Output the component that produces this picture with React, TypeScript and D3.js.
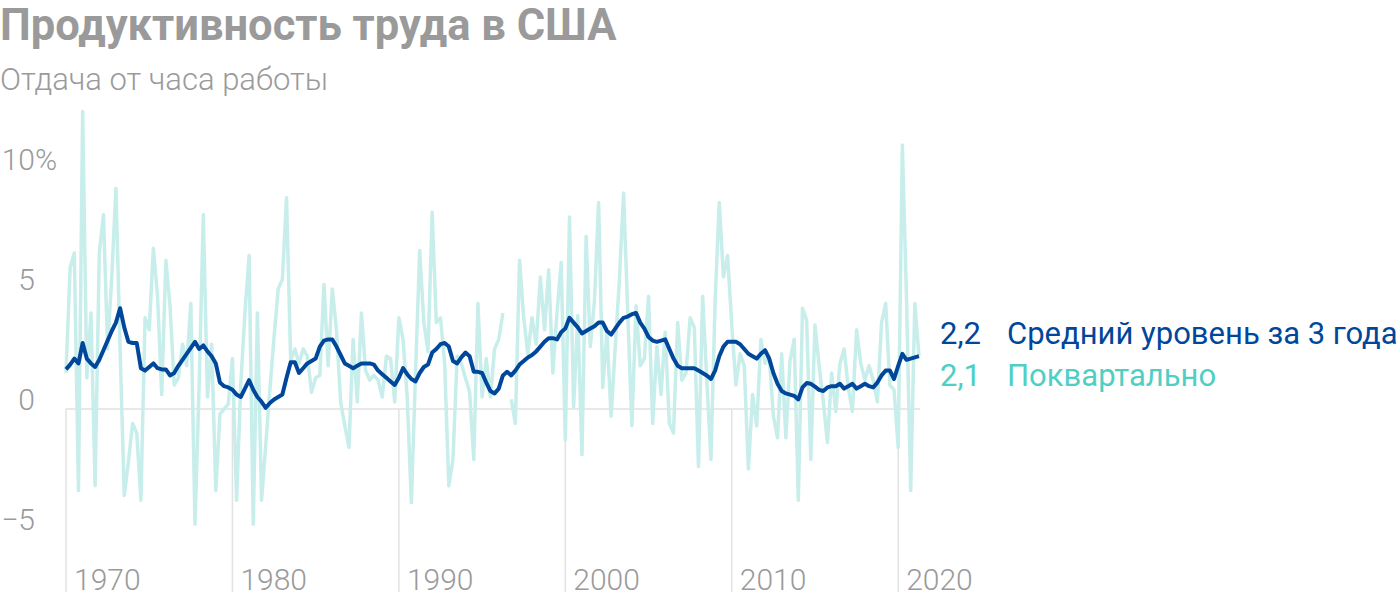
import React from "react";
import * as d3 from "d3";

const TITLE = "Продуктивность труда в США";
const SUBTITLE = "Отдача от часа работы";
const START_YEAR = 1970;

// Quarterly change, annualized, % (1970 Q1 … 2021 Q2)
const quarterly: (number | null)[] = [
  1.5, 5.9, 6.5, -3.4, 12.4, 1.3, 4.0, -3.2, 6.5, 8.1,
  2.5, 5.5, 9.2, 2.5, -3.6, -2.2, -0.6, -1.0, -3.8, 3.8,
  3.3, 6.7, 4.7, 0.6, 6.2, 4.3, 1.0, 1.3, 2.7, 1.8,
  4.4, -4.8, 1.0, 8.1, 0.5, 2.7, -3.4, -0.2, 0.0, 0.2,
  2.1, -3.8, 1.0, 4.0, 6.4, -4.8, 4.0, -3.8, -1.5, 0.8,
  3.0, 5.0, 5.4, 8.8, 2.0, 2.5, 1.9, 2.5, 2.2, 0.7,
  1.3, 1.4, 5.2, 1.8, 5.0, 3.3, 0.3, -0.7, -1.6, 2.9,
  0.3, 4.0, 1.6, 1.2, 1.4, 1.2, 0.5, 2.2, 2.1, 0.3,
  3.8, 2.9, 0.5, -3.9, 1.5, 6.6, 3.6, 2.4, 8.2, 3.6,
  3.8, 1.9, -3.2, -2.1, 2.2, 1.9, 1.3, 0.7, -2.1, 4.4,
  0.5, 2.1, 0.5, 2.5, 2.9, 4.0, null, 0.4, -0.6, 6.2,
  3.8, 2.3, 3.8, 2.7, 5.5, 3.3, 5.8, 1.5, 4.0, 6.1,
  -1.3, 8.0, 0.1, 3.9, -1.9, 7.2, 2.6, 4.5, 8.6, 0.9,
  3.2, -0.3, 2.6, 5.4, 9.0, 4.0, -0.7, 4.3, 1.8, 2.1,
  4.7, -0.6, 2.6, 0.6, 3.2, -0.6, -1.0, 3.6, 1.2, 1.5,
  3.8, 3.4, -2.4, 4.7, 1.2, -2.1, 4.5, 8.6, 5.5, 6.4,
  3.5, 1.0, 2.3, 1.8, -2.5, 0.6, -0.7, 2.9, 1.9, 2.2,
  -0.3, -1.2, 2.3, -1.2, 2.0, 2.9, -3.8, 4.2, 3.7, -2.1,
  3.5, 1.8, 0.3, -1.4, 1.5, -0.1, 1.9, 2.5, 0.9, -0.1,
  3.3, 1.9, 1.2, 1.8, 1.2, 0.3, 3.6, 4.4, 1.0, 0.8,
  -1.6, 11.0, 4.6, -3.4, 4.4, 2.2,
];

// 3-year average, % (1970 Q1 … 2021 Q2)
const avg3y: number[] = [
  1.65, 1.85, 2.1, 1.9, 2.75, 2.1, 1.9, 1.75, 2.05, 2.45,
  2.85, 3.25, 3.6, 4.2, 3.4, 2.8, 2.75, 2.75, 1.7, 1.6,
  1.75, 1.9, 1.7, 1.65, 1.65, 1.4, 1.5, 1.8, 2.05, 2.3,
  2.55, 2.8, 2.5, 2.65, 2.4, 2.2, 1.9, 1.1, 0.95, 0.9,
  0.8, 0.6, 0.5, 0.85, 1.2, 0.8, 0.5, 0.3, 0.05, 0.25,
  0.4, 0.5, 0.6, 1.3, 1.95, 1.95, 1.5, 1.7, 1.9, 2.0,
  2.1, 2.6, 2.85, 2.9, 2.9, 2.6, 2.25, 1.9, 1.8, 1.7,
  1.8, 1.9, 1.9, 1.9, 1.85, 1.6, 1.45, 1.3, 1.15, 1.0,
  1.3, 1.7, 1.45, 1.25, 1.15, 1.5, 1.75, 1.85, 2.35, 2.5,
  2.7, 2.75, 2.6, 2.0, 1.9, 2.15, 2.35, 2.2, 1.55, 1.55,
  1.5, 1.1, 0.75, 0.65, 0.85, 1.4, 1.55, 1.4, 1.6, 1.85,
  2.0, 2.15, 2.25, 2.4, 2.6, 2.8, 2.95, 2.95, 2.9, 3.2,
  3.35, 3.8, 3.6, 3.4, 3.15, 3.25, 3.35, 3.45, 3.6, 3.6,
  3.25, 3.1, 3.35, 3.6, 3.8, 3.85, 3.95, 4.0, 3.6, 3.35,
  3.0, 2.85, 2.8, 2.85, 2.9, 2.5, 2.1, 1.8, 1.7, 1.7,
  1.7, 1.7, 1.6, 1.5, 1.4, 1.25, 1.6, 2.2, 2.6, 2.8,
  2.8, 2.8, 2.7, 2.5, 2.3, 2.2, 2.1, 2.3, 2.45, 2.1,
  1.5, 1.05, 0.75, 0.65, 0.6, 0.55, 0.4, 0.9, 1.08, 1.05,
  0.93, 0.8, 0.75, 0.9, 0.95, 0.95, 1.05, 0.85, 0.95, 1.05,
  0.85, 0.95, 1.05, 0.95, 0.9, 1.1, 1.4, 1.6, 1.6, 1.25,
  1.8, 2.3, 2.05, 2.1, 2.15, 2.2,
];

const yTicks = [10, 5, 0, -5];
const yTickLabels = ["10", "5", "0", "−5"];
const xTicks = [1970, 1980, 1990, 2000, 2010, 2020];
const legendValues = ["2,2", "2,1"];
const legendLabels = ["Средний уровень за 3 года", "Поквартально"];

const DARK = "#00479b";
const LIGHT = "#c8eeeb";
const TEAL_TEXT = "#4fcfc4";
const GREY = "#9a9a9a";
const FONT = "Roboto, 'Noto Sans', sans-serif";

export default function App() {
  const W = 1400;
  const H = 600;
  const n = quarterly.length;
  const t = (i: number) => START_YEAR + i / 4;
  const x = d3.scaleLinear().domain([START_YEAR, t(n - 1)]).range([66, 919]);
  const y = d3.scaleLinear().domain([0, 10]).range([409, 169]);

  const lightLine = d3
    .line<number | null>()
    .defined((d) => d !== null)
    .x((_, i) => x(t(i)))
    .y((d) => y(d as number));
  const darkLine = d3
    .line<number>()
    .x((_, i) => x(t(i)))
    .y((d) => y(d));

  return (
    <svg
      width={W}
      height={H}
      style={{ position: "absolute", left: 0, top: 0, background: "#fff" }}
      fontFamily={FONT}
    >
      <text x={0} y={40} fontSize={43.5} fontWeight={700} fill={GREY}>
        {TITLE}
      </text>
      <text x={0} y={90} fontSize={31} fontWeight={300} fill={GREY}>
        {SUBTITLE}
      </text>

      {/* y axis labels */}
      {yTicks.map((v, k) => (
        <text
          key={v}
          x={35}
          y={y(v) + 1}
          fontSize={30}
          fontWeight={300}
          fill={GREY}
          textAnchor="end"
        >
          {yTickLabels[k]}
        </text>
      ))}
      <text x={35} y={y(10) + 1} fontSize={30} fontWeight={300} fill={GREY}>
        %
      </text>

      {/* gridlines */}
      {xTicks.map((yr) => (
        <line
          key={yr}
          x1={x(yr)}
          x2={x(yr)}
          y1={y(0)}
          y2={592}
          stroke="#e2e2e2"
          strokeWidth={1.5}
        />
      ))}
      <line x1={x(START_YEAR)} x2={920} y1={y(0)} y2={y(0)} stroke="#e0e0e0" strokeWidth={1.5} />

      {xTicks.map((yr) => (
        <text key={yr} x={x(yr) + 8} y={590} fontSize={30} fontWeight={300} fill={GREY}>
          {yr}
        </text>
      ))}

      <path d={lightLine(quarterly) || ""} fill="none" stroke={LIGHT} strokeWidth={3.5} strokeLinejoin="round" />
      <path d={darkLine(avg3y) || ""} fill="none" stroke={DARK} strokeWidth={4} strokeLinejoin="round" />

      {/* legend */}
      {legendValues.map((v, k) => (
        <g key={v} fill={k === 0 ? DARK : TEAL_TEXT} fontSize={31}>
          <text x={940} y={344 + k * 42}>{v}</text>
          <text x={1007} y={344 + k * 42}>{legendLabels[k]}</text>
        </g>
      ))}
    </svg>
  );
}
